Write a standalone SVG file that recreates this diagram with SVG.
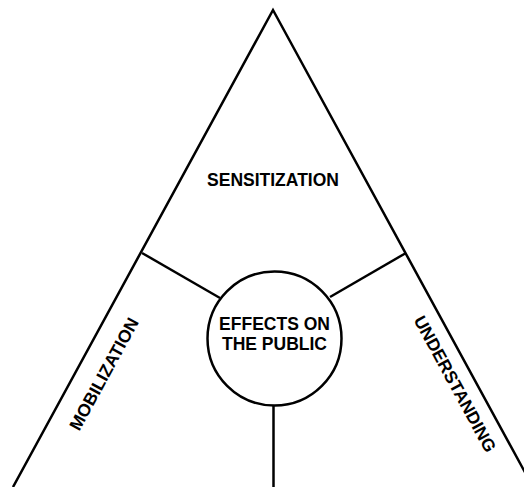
<svg xmlns="http://www.w3.org/2000/svg" width="524" height="487" viewBox="0 0 524 487">
  <style>
    .edge { fill: none; stroke: #000; stroke-width: 2.5; stroke-linecap: butt; stroke-linejoin: miter; }
    .label { font-family: "Liberation Sans", Arial, sans-serif; font-weight: bold; font-size: 17.5px; fill: #000; text-anchor: middle; }
  </style>
  <rect width="524" height="487" fill="#fff"/>

  <!-- Outer triangle sides and spokes -->
  <g id="connectors">
    <polyline class="edge" points="13,487 273,10 533,487"/>
    <line class="edge" x1="142" y1="253" x2="220" y2="298"/>
    <line class="edge" x1="406" y1="253" x2="330" y2="297"/>
    <line class="edge" x1="273.5" y1="405.5" x2="273.5" y2="487"/>
  </g>

  <g id="sensitization">
    <text class="label" x="273" y="186">SENSITIZATION</text>
  </g>

  <g id="mobilization">
    <text class="label" transform="translate(104,374) rotate(-61.4)" x="0" y="6">MOBILIZATION</text>
  </g>

  <g id="understanding">
    <text class="label" transform="translate(455,384) rotate(61.4)" x="0" y="6">UNDERSTANDING</text>
  </g>

  <g id="effects">
    <circle class="edge" cx="274.5" cy="338.5" r="67" fill="#fff"/>
    <text class="label" x="274.5" y="330">EFFECTS ON</text>
    <text class="label" x="274.5" y="350">THE PUBLIC</text>
  </g>
</svg>
